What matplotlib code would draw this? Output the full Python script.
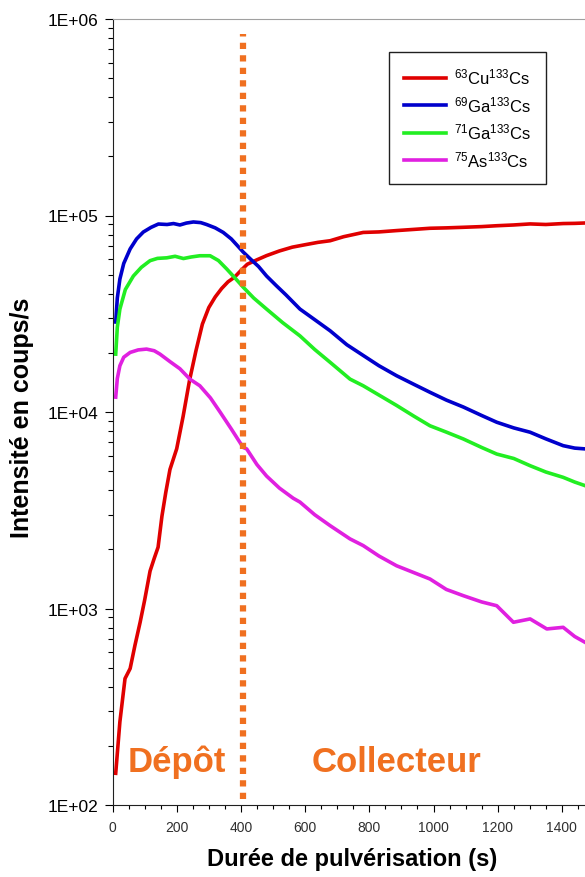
import numpy as np
import matplotlib
matplotlib.use("Agg")
import matplotlib.pyplot as plt
from matplotlib.ticker import FuncFormatter, MultipleLocator, LogLocator

plt.rcParams['font.family'] = ['Liberation Sans', 'DejaVu Sans']
plt.rcParams['mathtext.fontset'] = 'custom'
plt.rcParams['mathtext.rm'] = 'Liberation Sans'
plt.rcParams['mathtext.default'] = 'regular'

# data (time in s, intensity in counts/s)
x_cu = [10, 23, 39, 48, 55, 70, 86, 100, 117, 130, 142, 154, 166, 179, 200, 220, 240, 260, 280, 300,
        320, 340, 360, 380, 400, 420, 450, 480, 520, 560, 600, 640, 678, 720, 781, 830, 885, 940, 989,
        1040, 1093, 1150, 1197, 1250, 1301, 1350, 1404, 1440, 1472]
y_cu = [145, 265, 440, 470, 495, 650, 850, 1100, 1550, 1800, 2050, 2950, 3900, 5100, 6500, 9500, 14500,
        20500, 28000, 34000, 38500, 42500, 46000, 48500, 52500, 56500, 59500, 62500, 66000, 69000, 71000,
        73000, 74400, 78000, 82000, 82500, 83800, 85000, 86100, 86500, 87100, 87800, 88700, 89500, 90600,
        90000, 91000, 91200, 91600]

x_ga69 = [10, 15, 23, 35, 55, 75, 96, 120, 143, 170, 190, 210, 230, 252, 275, 293, 320, 345, 370, 390,
          407, 430, 455, 480, 510, 540, 584, 630, 678, 730, 781, 830, 885, 940, 989, 1040, 1093, 1150,
          1197, 1250, 1301, 1350, 1404, 1440, 1472]
y_ga69 = [28700, 38000, 47500, 57000, 67600, 76000, 82400, 87000, 90500, 90000, 91000, 89500, 91500,
          92700, 92000, 90000, 86500, 82000, 76000, 70000, 65200, 60000, 55000, 49200, 44000, 39500,
          33400, 29500, 25900, 22000, 19400, 17200, 15300, 13800, 12600, 11500, 10600, 9600, 8870, 8300,
          7890, 7300, 6740, 6550, 6490]

x_ga71 = [10, 15, 23, 40, 65, 90, 117, 140, 169, 195, 221, 245, 272, 304, 330, 356, 382, 407, 440, 480,
          530, 584, 630, 678, 740, 781, 830, 885, 940, 989, 1040, 1093, 1150, 1197, 1250, 1301, 1350,
          1404, 1440, 1472]
y_ga71 = [19700, 27000, 33400, 42000, 49200, 54500, 58900, 60500, 60900, 62000, 60400, 61500, 62400,
          62400, 59000, 53400, 48000, 43200, 38000, 33400, 28500, 24400, 20800, 17900, 14700, 13600,
          12200, 10800, 9500, 8510, 7900, 7290, 6600, 6110, 5800, 5330, 4950, 4650, 4400, 4220]

x_as = [10, 15, 23, 35, 55, 80, 106, 130, 148, 180, 210, 241, 272, 305, 335, 370, 407, 418, 450, 480,
        520, 563, 584, 630, 678, 740, 781, 830, 885, 940, 989, 1040, 1093, 1150, 1197, 1249, 1301, 1353,
        1404, 1440, 1472]
y_as = [11900, 14800, 17200, 19000, 20100, 20700, 20900, 20500, 19700, 18000, 16600, 14700, 13600,
        11800, 10000, 8200, 6600, 6490, 5400, 4720, 4100, 3640, 3480, 3000, 2640, 2260, 2090, 1850, 1650,
        1520, 1413, 1250, 1162, 1080, 1033, 851, 885, 787, 802, 720, 673]

labels = [r'$^{63}$Cu$^{133}$Cs', r'$^{69}$Ga$^{133}$Cs', r'$^{71}$Ga$^{133}$Cs', r'$^{75}$As$^{133}$Cs']
colors = ['#e00000', '#0000cc', '#22ee22', '#e020e0']
x_ticks = [0, 200, 400, 600, 800, 1000, 1200, 1400]
t_limit = 405  # deposit / collector boundary (s)

fig = plt.figure(figsize=(5.85, 8.78), dpi=100)
# axes run past the right edge of the picture, as in the cropped original
ax = fig.add_axes([112.5/585, 72/878, 513.6/585, 786/878])

for xs, ys, c, lab in zip([x_cu, x_ga69, x_ga71, x_as], [y_cu, y_ga69, y_ga71, y_as], colors, labels):
    ax.plot(xs, ys, color=c, lw=2.6, label=lab, solid_joinstyle='round')

ax.plot([t_limit, t_limit], [107, 8.4e5], color='#f07020', lw=4.5, dashes=(1.0, 1.0),
        solid_capstyle='butt', dash_capstyle='butt')

ax.set_yscale('log')
ax.set_ylim(100, 1e6)
ax.set_xlim(0, 1600)
ax.yaxis.set_major_formatter(FuncFormatter(lambda v, p: '{:.0E}'.format(v)))
ax.yaxis.set_minor_locator(LogLocator(base=10, subs=np.arange(2, 10)))
ax.yaxis.set_minor_formatter(FuncFormatter(lambda v, p: ''))
ax.set_xticks(x_ticks)
ax.xaxis.set_minor_locator(MultipleLocator(50))

ax.tick_params(axis='y', which='major', length=6, width=0.8, pad=4, labelsize=12.5)
ax.tick_params(axis='y', which='minor', length=3.5, width=0.8)
ax.tick_params(axis='x', which='major', length=5, width=0.8, pad=6, labelsize=10, labelcolor='#303030')
ax.tick_params(axis='x', which='minor', length=3, width=0.8)

ax.spines['top'].set_color('#a0a0a0')
ax.spines['right'].set_visible(False)
for s in ['left', 'bottom']:
    ax.spines[s].set_color('#202020')

ax.text(48, 149, 'Dépôt', color='#f07020', fontsize=25, fontweight='bold', va='baseline')
ax.text(621, 149, 'Collecteur', color='#f07020', fontsize=25, fontweight='bold', va='baseline')

ax.set_ylabel('Intensité en coups/s', fontsize=18, fontweight='bold')
ax.set_xlabel('Durée de pulvérisation (s)', fontsize=17, fontweight='bold')
ax.yaxis.set_label_coords(-0.152, 0.494)
ax.xaxis.set_label_coords(0.466, -0.054)

leg = ax.legend(loc='upper left', bbox_to_anchor=(389/585, 1-53/878), bbox_transform=fig.transFigure,
                fancybox=False, edgecolor='#202020', fontsize=12, handlelength=2.5, handletextpad=0.5,
                labelspacing=0.45, borderpad=0.9, borderaxespad=0, framealpha=1)
leg.get_frame().set_linewidth(1.0)

fig.savefig('out.png', dpi=100)
